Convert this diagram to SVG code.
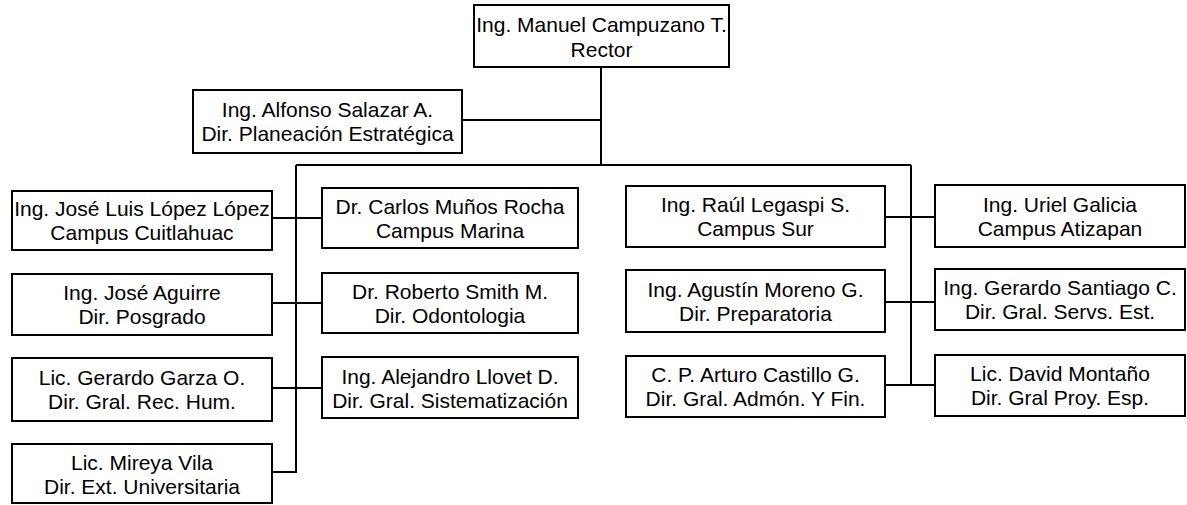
<svg xmlns="http://www.w3.org/2000/svg" width="1187" height="505" viewBox="0 0 1187 505">
<style>
rect.box{fill:#fff;stroke:#000;stroke-width:2}
text{font-family:"Liberation Sans",Arial,sans-serif;font-size:21px;fill:#000;text-anchor:middle}
.conn line,.conn polyline{stroke:#000;stroke-width:2;fill:none}
</style>
<rect width="1187" height="505" fill="#fff"/>
<g class="conn" id="connectors">
<line x1="601" y1="67" x2="601" y2="165"/>
<line x1="462" y1="120" x2="601" y2="120"/>
<line x1="296" y1="165" x2="911" y2="165"/>
<polyline points="296,165 296,472 272,472"/>
<line x1="272" y1="218" x2="322" y2="218"/>
<line x1="272" y1="303" x2="322" y2="303"/>
<line x1="272" y1="388" x2="322" y2="388"/>
<line x1="911" y1="165" x2="911" y2="385"/>
<line x1="885" y1="217" x2="935" y2="217"/>
<line x1="885" y1="302" x2="935" y2="302"/>
<line x1="885" y1="385" x2="935" y2="385"/>
</g>
<g id="rector"><rect class="box" x="474" y="5" width="255" height="62"/><text x="601.5" y="32">Ing. Manuel Campuzano T.</text><text x="601.5" y="57">Rector</text></g>
<g id="salazar"><rect class="box" x="193" y="90" width="269" height="63"/><text x="327.5" y="117">Ing. Alfonso Salazar A.</text><text x="327.5" y="141">Dir. Planeación Estratégica</text></g>
<g id="lopez"><rect class="box" x="12" y="191" width="260" height="59"/><text x="142" y="216">Ing. José Luis López López</text><text x="142" y="240">Campus Cuitlahuac</text></g>
<g id="aguirre"><rect class="box" x="12" y="274" width="260" height="61"/><text x="142" y="300">Ing. José Aguirre</text><text x="142" y="324">Dir. Posgrado</text></g>
<g id="garza"><rect class="box" x="12" y="358" width="260" height="63"/><text x="142" y="385">Lic. Gerardo Garza O.</text><text x="142" y="409">Dir. Gral. Rec. Hum.</text></g>
<g id="vila"><rect class="box" x="12" y="444" width="260" height="59"/><text x="142" y="470">Lic. Mireya Vila</text><text x="142" y="494">Dir. Ext. Universitaria</text></g>
<g id="munos"><rect class="box" x="322" y="188" width="256" height="60"/><text x="450" y="214">Dr. Carlos Muños Rocha</text><text x="450" y="238">Campus Marina</text></g>
<g id="smith"><rect class="box" x="322" y="273" width="256" height="60"/><text x="450" y="299">Dr. Roberto Smith M.</text><text x="450" y="323">Dir. Odontologia</text></g>
<g id="llovet"><rect class="box" x="322" y="357" width="256" height="61"/><text x="450" y="384">Ing. Alejandro Llovet D.</text><text x="450" y="408">Dir. Gral. Sistematización</text></g>
<g id="legaspi"><rect class="box" x="626" y="186" width="259" height="61"/><text x="755.5" y="212">Ing. Raúl Legaspi S.</text><text x="755.5" y="236">Campus Sur</text></g>
<g id="moreno"><rect class="box" x="626" y="270" width="259" height="62"/><text x="755.5" y="297">Ing. Agustín Moreno G.</text><text x="755.5" y="321">Dir. Preparatoria</text></g>
<g id="castillo"><rect class="box" x="626" y="356" width="259" height="61"/><text x="755.5" y="382">C. P. Arturo Castillo G.</text><text x="755.5" y="406">Dir. Gral. Admón. Y Fin.</text></g>
<g id="galicia"><rect class="box" x="935" y="185" width="250" height="62"/><text x="1060" y="212">Ing. Uriel Galicia</text><text x="1060" y="236">Campus Atizapan</text></g>
<g id="santiago"><rect class="box" x="935" y="269" width="250" height="61"/><text x="1060" y="295">Ing. Gerardo Santiago C.</text><text x="1060" y="319">Dir. Gral. Servs. Est.</text></g>
<g id="montano"><rect class="box" x="935" y="355" width="250" height="61"/><text x="1060" y="381">Lic. David Montaño</text><text x="1060" y="405">Dir. Gral Proy. Esp.</text></g>
</svg>
